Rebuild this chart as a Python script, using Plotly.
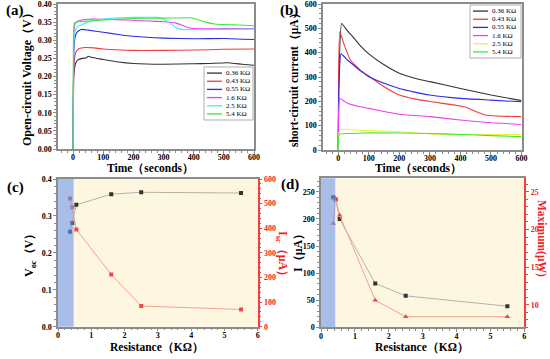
import plotly.graph_objects as go

W, H = 550, 359
def px(x): return x / W
def py(y): return 1 - y / H

SERIF = "Liberation Serif"
names = ["0.36 KΩ", "0.43 KΩ", "0.55 KΩ", "1.6 KΩ", "2.5 KΩ", "5.4 KΩ"]
colors_a = ["#333333", "#f03c3c", "#2a2ae8", "#f03cf0", "#40f0f0", "#3ce83c"]
colors_b = ["#333333", "#f03c3c", "#2a2ae8", "#f03cf0", "#f0f03c", "#3ce83c"]

# (a) open-circuit voltage vs time
ta = [
    [0, 1, 3, 8, 15, 30, 45, 50, 60, 100, 150, 200, 300, 400, 450, 510, 560, 600],
    [0, 2, 5, 10, 20, 40, 70, 100, 200, 300, 400, 500, 600],
    [0, 2, 5, 10, 20, 30, 50, 100, 150, 200, 300, 400, 500, 600],
    [0, 2, 5, 10, 25, 50, 100, 150, 200, 250, 300, 340, 360, 380, 400, 500, 600],
    [0, 2, 5, 15, 30, 50, 80, 120, 200, 280, 300, 320, 340, 360, 400, 500, 600],
    [0, 2, 5, 20, 50, 100, 200, 300, 390, 410, 440, 470, 550, 600],
]
va = [
    [0, 0.18, 0.21, 0.235, 0.245, 0.25, 0.252, 0.256, 0.253, 0.247, 0.24, 0.236, 0.234, 0.235, 0.236, 0.238, 0.234, 0.231],
    [0, 0.2, 0.25, 0.268, 0.277, 0.28, 0.279, 0.276, 0.272, 0.272, 0.273, 0.275, 0.276],
    [0, 0.25, 0.3, 0.318, 0.327, 0.33, 0.328, 0.322, 0.316, 0.311, 0.306, 0.304, 0.305, 0.302],
    [0, 0.3, 0.34, 0.35, 0.355, 0.358, 0.358, 0.357, 0.355, 0.353, 0.351, 0.348, 0.342, 0.335, 0.332, 0.332, 0.332],
    [0, 0.28, 0.32, 0.338, 0.343, 0.35, 0.356, 0.36, 0.363, 0.363, 0.358, 0.348, 0.336, 0.33, 0.329, 0.33, 0.331],
    [0, 0.33, 0.348, 0.351, 0.353, 0.356, 0.36, 0.361, 0.362, 0.358, 0.35, 0.345, 0.342, 0.34],
]

# (b) short-circuit current vs time
tb = [
    [0, 2, 11, 30, 50, 75, 100, 150, 200, 250, 300, 400, 500, 600],
    [0, 1, 5, 20, 40, 70, 100, 150, 200, 250, 300, 400, 420, 450, 480, 520, 600],
    [0, 2, 9, 30, 50, 75, 100, 150, 200, 250, 300, 400, 500, 600],
    [0, 1, 5, 30, 60, 100, 150, 200, 300, 400, 500, 600],
    [0, 1, 5, 20, 50, 200, 300, 400, 600],
    [0, 1, 5, 50, 100, 300, 400, 500, 600],
]
ib = [
    [0, 300, 520, 490, 462, 425, 395, 350, 315, 295, 281, 253, 226, 203],
    [0, 300, 486, 430, 370, 330, 304, 260, 226, 210, 199, 181, 175, 158, 144, 140, 137],
    [0, 250, 395, 370, 349, 323, 301, 274, 253, 238, 226, 212, 205, 198],
    [0, 150, 212, 192, 181, 171, 158, 147, 137, 123, 112, 105],
    [0, 60, 82, 85, 82, 75, 66, 64, 63],
    [0, 50, 66, 68, 71, 68, 64, 59, 55],
]

# (c), (d) vs resistance
res = [0.36, 0.43, 0.55, 1.6, 2.5, 5.5]
voc = [0.257, 0.281, 0.330, 0.359, 0.364, 0.362]
isc = [521, 485, 395, 212, 84, 70]
i_d = [240, 236, 200, 81, 58, 39]
pmax = [20.8, 24.1, 21.9, 10.6, 8.4, 8.4]

fig = go.Figure()
for i in range(6):
    fig.add_trace(go.Scatter(x=ta[i], y=va[i], mode="lines", line=dict(color=colors_a[i], width=1.1, shape="spline", smoothing=0.4),
                             xaxis="x", yaxis="y", showlegend=False))
for i in range(6):
    fig.add_trace(go.Scatter(x=tb[i], y=ib[i], mode="lines", line=dict(color=colors_b[i], width=1.1, shape="spline", smoothing=0.4),
                             xaxis="x2", yaxis="y2", showlegend=False))

gray_line = "#b4b4a6"
red_line = "#f6a08c"
fig.add_trace(go.Scatter(x=res, y=voc, mode="lines+markers", line=dict(color=gray_line, width=1),
                         marker=dict(symbol="square", size=4, color="#333333"), xaxis="x3", yaxis="y3", showlegend=False))
fig.add_trace(go.Scatter(x=res, y=isc, mode="lines+markers", line=dict(color=red_line, width=1),
                         marker=dict(symbol="square", size=4, color="#f04a40"), xaxis="x3", yaxis="y5", showlegend=False))
fig.add_trace(go.Scatter(x=res, y=i_d, mode="lines+markers", line=dict(color=gray_line, width=1),
                         marker=dict(symbol="square", size=4, color="#333333"), xaxis="x4", yaxis="y4", showlegend=False))
fig.add_trace(go.Scatter(x=res, y=pmax, mode="lines+markers", line=dict(color=red_line, width=1),
                         marker=dict(symbol="triangle-up", size=5, color="#f04a40"), xaxis="x4", yaxis="y6", showlegend=False))

tickfont = dict(family=SERIF, size=8, color="black", weight="bold")
redfont = dict(family=SERIF, size=8, color="#f02020", weight="bold")
frame = "#8c8c8c"
common = dict(showgrid=False, zeroline=False, showline=True, linecolor=frame, linewidth=1.5, automargin=False,
              ticks="outside", ticklen=3, tickcolor=frame, tickfont=tickfont, ticklabeloverflow="allow",
              minor=dict(ticks="outside", ticklen=2, tickcolor=frame))
xcommon = {**common, "ticklabelstandoff": -3}
redax = {**common, "linecolor": "#f04040", "tickcolor": "#f04040", "tickfont": redfont,
         "minor": dict(ticks="outside", ticklen=2, tickcolor="#f04040")}

fig.update_layout(
    width=W, height=H, margin=dict(l=0, r=0, t=0, b=0, autoexpand=False),
    paper_bgcolor="white", plot_bgcolor="white", showlegend=False,
    xaxis=dict(domain=[px(58), px(254)], anchor="y", range=[-50, 600], dtick=100, mirror=True, **xcommon),
    yaxis=dict(domain=[py(149), py(4)], anchor="x", range=[0, 0.40], dtick=0.05, tickformat=".2f", mirror=True, **common),
    xaxis2=dict(domain=[px(323), px(521.5)], anchor="y2", range=[-50, 600], dtick=100, mirror=True, **xcommon),
    yaxis2=dict(domain=[py(150), py(4)], anchor="x2", range=[0, 600], dtick=100, mirror=True, **common),
    xaxis3=dict(domain=[px(58), px(257.7)], anchor="y3", range=[0, 6], dtick=1, mirror=True, **xcommon),
    yaxis3=dict(domain=[py(326.7), py(179)], anchor="x3", range=[0, 0.4], dtick=0.1, tickformat=".1f", **common),
    yaxis5=dict(overlaying="y3", anchor="x3", side="right", range=[0, 600], dtick=100, **redax),
    xaxis4=dict(domain=[px(321), px(524.3)], anchor="y4", range=[0, 6], dtick=1, mirror=True, **xcommon),
    yaxis4=dict(domain=[py(327.3), py(178.3)], anchor="x4", range=[0, 275], dtick=50, **common),
    yaxis6=dict(overlaying="y4", anchor="x4", side="right", range=[7, 26.8], dtick=5, **redax),
)

shapes = []
for xr, yr, bx in [("x3", "y3 domain", 0.47), ("x4", "y4 domain", 0.42)]:
    shapes.append(dict(type="rect", xref=xr, yref=yr, x0=0, x1=6, y0=0, y1=1,
                       fillcolor="#fdf7e2", line=dict(width=0), layer="below"))
    shapes.append(dict(type="rect", xref=xr, yref=yr, x0=0, x1=bx, y0=0, y1=1,
                       fillcolor="rgb(112,150,235)", opacity=0.6, line=dict(width=0), layer="above"))

ann = []
def text(x, y, s, size=12, color="black", angle=0, xanchor="center"):
    ann.append(dict(x=px(x), y=py(y), xref="paper", yref="paper", text=s, showarrow=False,
                    textangle=angle, xanchor=xanchor, yanchor="middle",
                    font=dict(family=SERIF, size=size, color=color)))

# manual legends
def legend(x0, y0, x1, y1, cols):
    shapes.append(dict(type="rect", xref="paper", yref="paper", x0=px(x0), x1=px(x1), y0=py(y1), y1=py(y0),
                       line=dict(color="#999999", width=0.8), fillcolor="white", layer="above"))
    step = (y1 - y0 - 4) / 6
    for i, (n, c) in enumerate(zip(names, cols)):
        yy = y0 + 2 + step * (i + 0.5)
        shapes.append(dict(type="line", xref="paper", yref="paper", x0=px(x0 + 3), x1=px(x0 + 18),
                           y0=py(yy), y1=py(yy), line=dict(color=c, width=1.3), layer="above"))
        text(x0 + 20, yy, n, size=7, xanchor="left")

legend(204, 67, 253, 120, colors_a)
legend(470, 5, 521, 58, colors_b)

# panel labels
b = lambda s: "<b>" + s + "</b>"
text(15, 11, b("(a)"), size=15)
text(289, 11, b("(b)"), size=15)
text(15, 187, b("(c)"), size=15)
text(290, 184, b("(d)"), size=15)

# axis titles
text(27, 77, b("Open-circuit Voltage（V）"), angle=-90)
text(150, 168, b("Time（seconds）"), size=11.5)
text(294, 77, b("short-circuit current（μA）"), size=11.5, angle=-90)
text(418, 168, b("Time（seconds）"), size=11.5)
text(30, 253, b("V<sub>oc</sub>（V）"), angle=-90)
text(157, 347, b("Resistance（KΩ）"), size=11.5)
text(282, 256, b("I<sub>sc</sub>（μA）"), color="#f02020", angle=90)
text(298, 250, b("I（μA）"), angle=-90)
text(422, 347, b("Resistance（KΩ）"), size=11.5)
text(542, 238, b("Maximum(μW)"), size=11.5, color="#f02020", angle=90)

fig.update_layout(shapes=shapes, annotations=ann)
fig.write_html("out.html", config={"displayModeBar": False},
               post_script="document.body.style.margin='0px';document.body.style.padding='0px';")
